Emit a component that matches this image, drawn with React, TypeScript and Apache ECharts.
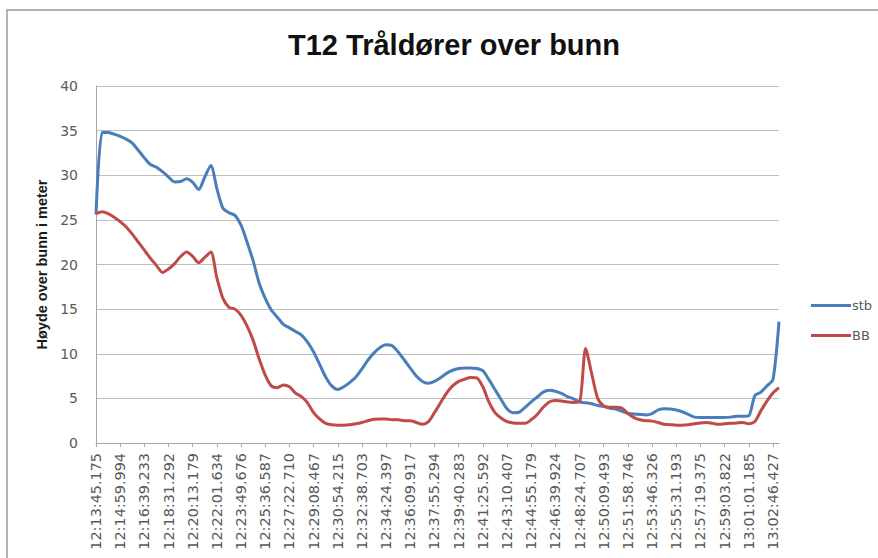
import React, { useEffect, useRef } from "react";
import * as echarts from "echarts";

const TITLE = "T12 Tråldører over bunn";
const Y_NAME = "Høyde over bunn i meter";

const tickLabels = [
  "12:13:45.175", "12:14:59.994", "12:16:39.233", "12:18:31.292", "12:20:13.179",
  "12:22:01.634", "12:23:49.676", "12:25:36.587", "12:27:22.710", "12:29:08.467",
  "12:30:54.215", "12:32:38.703", "12:34:24.397", "12:36:09.917", "12:37:55.294",
  "12:39:40.283", "12:41:25.592", "12:43:10.407", "12:44:55.179", "12:46:39.924",
  "12:48:24.707", "12:50:09.493", "12:51:58.746", "12:53:46.326", "12:55:31.193",
  "12:57:19.375", "12:59:03.822", "13:01:01.185", "13:02:46.427",
];
const SAMPLES_PER_LABEL = 4;

const stb = [
  25.6, 34.8, 34.8, 34.6, 34.35, 34.05, 33.6, 32.8, 31.95, 31.2,
  30.9, 30.4, 29.8, 29.25, 29.3, 29.6, 29.2, 28.4, 29.8, 31.1,
  28.5, 26.3, 25.8, 25.5, 24.4, 22.5, 20.4, 17.9, 16.2, 14.9,
  14.1, 13.3, 12.9, 12.5, 12.1, 11.3, 10.2, 8.8, 7.4, 6.4,
  6.0, 6.3, 6.8, 7.4, 8.3, 9.3, 10.1, 10.7, 11.0, 10.9,
  10.2, 9.3, 8.4, 7.5, 6.9, 6.7, 6.9, 7.3, 7.8, 8.15,
  8.35, 8.4, 8.4, 8.35, 8.1, 7.1, 6.0, 4.9, 3.85, 3.4,
  3.45, 4.0, 4.6, 5.15, 5.7, 5.9, 5.8, 5.55, 5.2, 4.95,
  4.6, 4.5, 4.4, 4.2, 4.1, 3.9, 3.8, 3.55, 3.35, 3.25,
  3.2, 3.15, 3.3, 3.7, 3.85, 3.8, 3.7, 3.5, 3.2, 2.9,
  2.85, 2.85, 2.85, 2.85, 2.85, 2.9, 3.0, 3.0, 3.05, 5.3,
  5.7, 6.4, 7.1, 13.6,
];

const bb = [
  25.7, 25.9, 25.7, 25.3, 24.8, 24.2, 23.4, 22.5, 21.6, 20.7,
  19.9, 19.1, 19.5, 20.1, 20.9, 21.4, 20.9, 20.2, 20.8, 21.4,
  18.5, 16.2, 15.2, 15.0, 14.3, 13.1, 11.5, 9.4, 7.6, 6.4,
  6.2, 6.5, 6.3, 5.6, 5.2, 4.5, 3.4, 2.7, 2.2, 2.05,
  2.0, 2.0, 2.05, 2.15, 2.3, 2.5, 2.65, 2.7, 2.7, 2.6,
  2.6, 2.5, 2.5, 2.3, 2.1, 2.4, 3.4, 4.5, 5.6, 6.4,
  6.9, 7.15, 7.35, 7.3, 6.3, 4.6, 3.4, 2.8, 2.4, 2.25,
  2.2, 2.2, 2.6, 3.2, 4.0, 4.6, 4.75, 4.7, 4.6, 4.55,
  4.6, 10.6, 7.8, 5.0, 4.15, 4.0, 4.0, 3.9, 3.3, 2.85,
  2.6, 2.5, 2.45, 2.3, 2.1, 2.05, 2.0, 2.0, 2.05, 2.15,
  2.25, 2.3, 2.2, 2.1, 2.15, 2.2, 2.25, 2.3, 2.15, 2.4,
  3.6, 4.7, 5.6, 6.2,
];

const categories = stb.map((_, i) =>
  i % SAMPLES_PER_LABEL === 0 ? tickLabels[i / SAMPLES_PER_LABEL] ?? "" : ""
);

export default function App() {
  const ref = useRef<HTMLDivElement>(null);
  useEffect(() => {
    document.body.style.margin = "0";
    const chart = echarts.init(ref.current!, null, { renderer: "svg" });
    const axisText = { color: "#595959", fontFamily: "DejaVu Sans", fontSize: 14 };
    chart.setOption({
      animation: false,
      backgroundColor: "#ffffff",
      graphic: [
        {
          type: "rect",
          shape: { x: 7, y: 10, width: 900, height: 600 },
          style: { fill: "none", stroke: "#9a9a9a", lineWidth: 1.5 },
          silent: true,
        },
      ],
      title: {
        text: TITLE,
        left: 449,
        textAlign: "center",
        top: 25,
        textStyle: {
          fontFamily: "Liberation Sans",
          fontWeight: "bold",
          fontSize: 29,
          color: "#111111",
        },
      },
      legend: {
        orient: "vertical",
        left: 806,
        top: 294,
        itemWidth: 40,
        itemHeight: 14,
        itemGap: 17,
        icon: "path://M0,6 L40,6 L40,9 L0,9 Z",
        textStyle: { color: "#595959", fontFamily: "DejaVu Sans", fontSize: 13, padding: [0, 0, 0, -4] },
        data: ["stb", "BB"],
      },
      grid: { left: 96, right: 99, top: 86, bottom: 115 },
      xAxis: {
        type: "category",
        data: categories,
        boundaryGap: false,
        axisLine: { lineStyle: { color: "#a6a6a6", width: 1 } },
        axisTick: { show: true, interval: SAMPLES_PER_LABEL - 1, length: 4, lineStyle: { color: "#a6a6a6" } },
        axisLabel: { ...axisText, fontSize: 14.4, rotate: 90, interval: SAMPLES_PER_LABEL - 1, margin: 10 },
        splitLine: { show: false },
      },
      yAxis: {
        type: "value",
        min: 0,
        max: 40,
        interval: 5,
        name: Y_NAME,
        nameLocation: "middle",
        nameGap: 42,
        nameRotate: 90,
        nameTextStyle: {
          fontFamily: "Liberation Sans",
          fontWeight: "bold",
          fontSize: 14.5,
          color: "#1a1a1a",
        },
        axisLine: { show: true, lineStyle: { color: "#a6a6a6", width: 1 } },
        axisTick: { show: false },
        axisLabel: { ...axisText, margin: 18 },
        splitLine: { lineStyle: { color: "#bfbfbf", width: 1.2 } },
      },
      series: [
        {
          name: "stb",
          type: "line",
          data: stb,
          smooth: 0.25,
          symbol: "none",
          lineStyle: { color: "#4a7ebb", width: 3 },
          itemStyle: { color: "#4a7ebb" },
        },
        {
          name: "BB",
          type: "line",
          data: bb,
          smooth: 0.25,
          symbol: "none",
          lineStyle: { color: "#be4b48", width: 3 },
          itemStyle: { color: "#be4b48" },
        },
      ],
    });
    return () => chart.dispose();
  }, []);
  return (
    <div
      ref={ref}
      style={{ position: "absolute", left: 0, top: 0, width: 878, height: 558 }}
    />
  );
}
